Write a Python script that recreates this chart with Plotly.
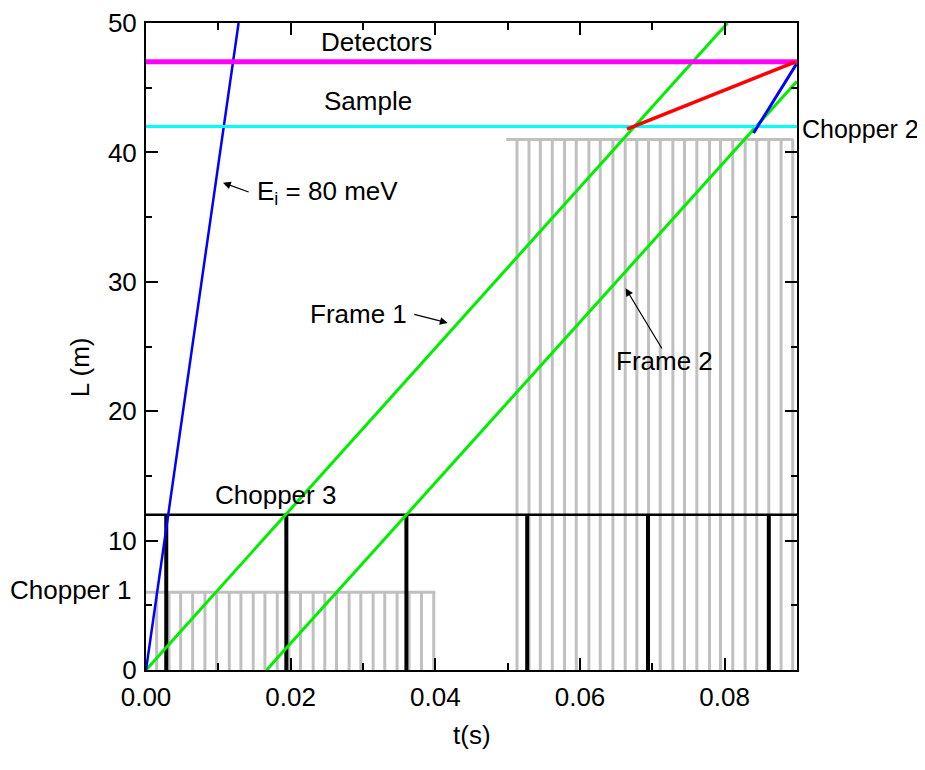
import plotly.graph_objects as go

# ---------------- data ----------------
x_range = [0.0, 0.09]
y_range = [0.0, 50.0]

# positions along the beam (m)
chopper1_L = 6.0
chopper3_L = 12.0
chopper2_L = 41.0
sample_L = 42.0
detector_L = 47.0

# chopper 1 (gray comb) opening times (s)
chopper1_t = [0.00147, 0.00318, 0.00479, 0.00645, 0.00815, 0.00976, 0.01151, 0.01312,
              0.01482, 0.01644, 0.01814, 0.01975, 0.02136, 0.02311, 0.02472, 0.02634,
              0.02808, 0.02970, 0.03140, 0.03301, 0.03471, 0.03637, 0.03808, 0.03978]
chopper1_span = [0.0, 0.040]

# chopper 2 (gray comb) opening times (s)
chopper2_t = [0.05129, 0.05295, 0.05451, 0.05617, 0.05787, 0.05948, 0.06123, 0.06280,
              0.06455, 0.06625, 0.06786, 0.06948, 0.07109, 0.07284, 0.07445, 0.07615,
              0.07790, 0.07942, 0.08112, 0.08283, 0.08444, 0.08610, 0.08780, 0.08941]
chopper2_span = [0.0498, 0.0895]

# chopper 3 (black) opening times (s)
chopper3_t = [0.0028, 0.0194, 0.0360, 0.0527, 0.0694, 0.0861]
chopper3_span = [0.0, 0.09]

# neutron paths (t, L)
ei_t = [0.0, 0.0128]
ei_L = [0.0, 50.0]
frame1_t = [0.0, 0.0804]
frame1_L = [0.0, 50.0]
frame2_t = [0.01667, 0.09]
frame2_L = [0.0, 45.5]
red_t = [0.0665, 0.0898]
red_L = [41.8, 47.0]
blue2_t = [0.0840, 0.0899]
blue2_L = [41.5, 46.8]

FONT = "Liberation Sans, Arial, sans-serif"
FS = 26


def comb(times, top, span):
    xs, ys = [span[0], span[1], None], [top, top, None]
    for t in times:
        xs += [t, t, None]
        ys += [0.0, top, None]
    return xs, ys


def verticals(times, top):
    xs, ys = [], []
    for t in times:
        xs += [t, t, None]
        ys += [0.0, top, None]
    return xs, ys


def px(t):
    return (t - x_range[0]) / (x_range[1] - x_range[0])


def py(L):
    return (L - y_range[0]) / (y_range[1] - y_range[0])


fig = go.Figure()

c1x, c1y = comb(chopper1_t, chopper1_L, chopper1_span)
fig.add_trace(go.Scatter(x=c1x, y=c1y, mode="lines",
                         line=dict(color="#c0c0c0", width=3), hoverinfo="skip"))
c2x, c2y = comb(chopper2_t, chopper2_L, chopper2_span)
fig.add_trace(go.Scatter(x=c2x, y=c2y, mode="lines",
                         line=dict(color="#c0c0c0", width=3), hoverinfo="skip"))

fig.add_trace(go.Scatter(x=chopper3_span, y=[chopper3_L, chopper3_L], mode="lines",
                         line=dict(color="black", width=2.5), hoverinfo="skip"))
c3x, c3y = verticals(chopper3_t, chopper3_L)
fig.add_trace(go.Scatter(x=c3x, y=c3y, mode="lines",
                         line=dict(color="black", width=4), hoverinfo="skip"))

fig.add_trace(go.Scatter(x=frame1_t, y=frame1_L, mode="lines",
                         line=dict(color="#00ee00", width=3)))
fig.add_trace(go.Scatter(x=frame2_t, y=frame2_L, mode="lines",
                         line=dict(color="#00ee00", width=3)))
fig.add_trace(go.Scatter(x=ei_t, y=ei_L, mode="lines",
                         line=dict(color="#0000ff", width=2.5)))

fig.add_trace(go.Scatter(x=x_range, y=[sample_L, sample_L], mode="lines",
                         line=dict(color="#00ffff", width=3)))
fig.add_trace(go.Scatter(x=x_range, y=[detector_L, detector_L], mode="lines",
                         line=dict(color="#ff00ff", width=5)))
fig.add_trace(go.Scatter(x=red_t, y=red_L, mode="lines",
                         line=dict(color="#ff0000", width=3.5)))
fig.add_trace(go.Scatter(x=blue2_t, y=blue2_L, mode="lines",
                         line=dict(color="#0000ff", width=3)))

# ---------------- annotations (paper coords so off-range labels show) ----------------
tf = dict(family=FONT, size=FS, color="black")
labels = [
    ("Detectors", 0.03184, 48.55, 0),
    ("Sample", 0.03066, 44.0, 0),
    ("E<sub>i</sub> = 80 meV", 0.0251, 36.9, 0),
    ("Frame 1", 0.02942, 27.55, 0),
    ("Frame 2", 0.07175, 23.9, 0),
    ("Chopper 3", 0.01796, 13.5, 0),
    ("Chopper 1", -0.0105, 6.15, 0),
    ("L (m)", -0.00912, 23.4, -90),
    ("t(s)", 0.045, -5.0, 0),
]
for txt, x, y, ang in labels:
    fig.add_annotation(x=px(x), y=py(y), xref="paper", yref="paper", text=txt,
                       showarrow=False, font=tf, xanchor="center", yanchor="middle",
                       textangle=ang)

# Chopper 2 label sits just right of the plot frame
fig.add_annotation(x=px(0.0906), y=py(41.8), xref="paper", yref="paper", text="Chopper 2",
                   showarrow=False, font=dict(family=FONT, size=25, color="black"),
                   xanchor="left", yanchor="middle", borderpad=0)

arrows = [
    # (tail_t, tail_L, head_t, head_L)
    (0.0144, 36.9, 0.01064, 37.66),
    (0.03688, 27.51, 0.04171, 26.82),
    (0.07145, 24.73, 0.0663, 29.5),
]
for tx, ty, hx, hy in arrows:
    fig.add_annotation(x=hx, y=hy, ax=tx, ay=ty, xref="x", yref="y", axref="x", ayref="y",
                       text="", showarrow=True, arrowhead=2, arrowsize=1.3,
                       arrowwidth=1.2, arrowcolor="black")

axis_common = dict(showline=True, linecolor="black", linewidth=2, mirror="allticks",
                   ticks="inside", ticklen=12, tickwidth=2, tickcolor="black",
                   showgrid=False, zeroline=False, automargin=False,
                   tickfont=dict(family=FONT, size=FS, color="black"))

fig.update_xaxes(range=x_range, tick0=0, dtick=0.02, tickformat=".2f",
                 minor=dict(ticks="inside", ticklen=7, tickwidth=2, dtick=0.01,
                            tickcolor="black", showgrid=False),
                 ticklabelstandoff=3, **axis_common)
fig.update_yaxes(range=y_range, tick0=0, dtick=10,
                 minor=dict(ticks="inside", ticklen=6, tickwidth=2, dtick=5,
                            tickcolor="black", showgrid=False),
                 ticklabelstandoff=2, **axis_common)

# the page body adds an 8px margin, so the figure is offset by 8px
fig.update_layout(width=917, height=762, showlegend=False,
                  margin=dict(l=138, r=127.5, t=15, b=100),
                  plot_bgcolor="white", paper_bgcolor="white")

fig.write_html("out.html")
